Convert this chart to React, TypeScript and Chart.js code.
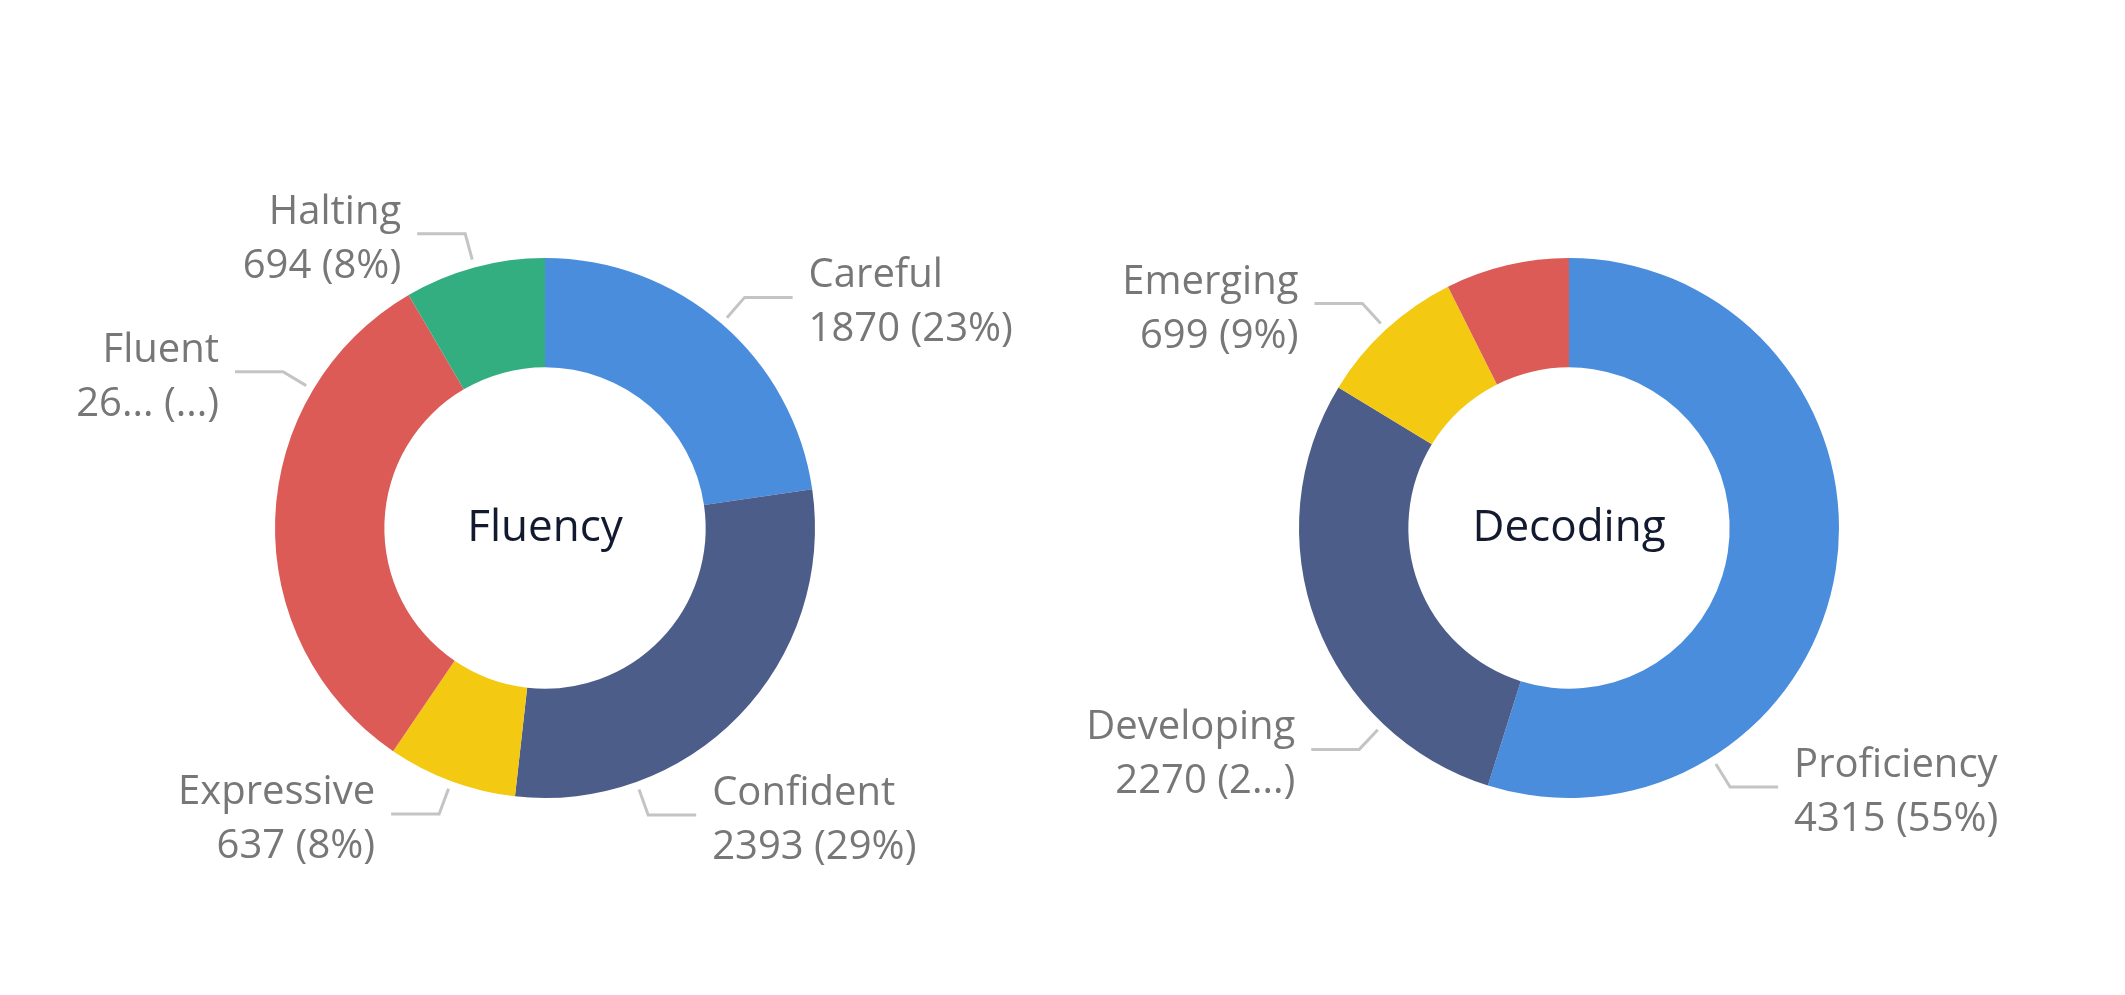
import React, { useEffect, useRef } from "react";
import { Chart, registerables } from "chart.js";

Chart.register(...registerables);

// ---- data ----
const fluencyCategories = ["Careful", "Confident", "Expressive", "Fluent", "Halting"];
const fluencyValues = [1870, 2393, 637, 2640, 694];
const fluencyTitle = "Fluency";

const decodingCategories = ["Proficiency", "Developing", "Emerging", "Beginning"];
const decodingValues = [4315, 2270, 699, 582];
const decodingTitle = "Decoding";

const palette = ["#4A8DDC", "#4C5D8A", "#F3C911", "#DC5B57", "#33AE81"];

// ---- label layout settings (not data) ----
const fluencyLabelAnchor = [0.5, 0.75, 0.5, 0.75, 0.5];
const fluencyLabelShow = [true, true, true, true, true];
const fluencyLabelMaxWidth = [400, 400, 400, 150, 400];

const decodingLabelAnchor = [0.75, 0.25, 0.5, 0.5];
const decodingLabelShow = [true, true, true, false];
const decodingLabelMaxWidth = [400, 185, 400, 400];

const FONT = "'Open Sans', 'Noto Sans', sans-serif";

function fitValueLine(ctx: CanvasRenderingContext2D, value: number, pct: number, maxW: number): string {
  const v = String(value);
  const p = pct + "%";
  const full = `${v} (${p})`;
  if (ctx.measureText(full).width <= maxW) return full;
  for (let k = p.length - 1; k >= 0; k--) {
    const s = `${v} (${p.slice(0, k)}...)`;
    if (ctx.measureText(s).width <= maxW) return s;
  }
  for (let k = v.length - 1; k >= 0; k--) {
    const s = `${v.slice(0, k)}... (...)`;
    if (ctx.measureText(s).width <= maxW) return s;
  }
  return "...";
}

const pbiLabels = {
  id: "pbiLabels",
  afterDraw(chart: any) {
    const cfg = chart.options.plugins.pbiLabels;
    if (!cfg) return;
    const ctx: CanvasRenderingContext2D = chart.ctx;
    const meta = chart.getDatasetMeta(0);
    const values: number[] = chart.data.datasets[0].data;
    const labels: string[] = chart.data.labels;
    const total = values.reduce((a, b) => a + b, 0);
    ctx.save();
    let cx = 0, cy = 0;
    meta.data.forEach((arc: any, i: number) => {
      const { x, y, startAngle, endAngle, outerRadius } = arc.getProps(
        ["x", "y", "startAngle", "endAngle", "outerRadius"],
        true
      );
      cx = x; cy = y;
      if (!cfg.show[i]) return;
      const a = startAngle + (endAngle - startAngle) * cfg.anchor[i];
      const p0x = x + Math.cos(a) * (outerRadius + 8);
      const p0y = y + Math.sin(a) * (outerRadius + 8);
      const p1x = x + Math.cos(a) * (outerRadius + 35);
      const p1y = y + Math.sin(a) * (outerRadius + 35);
      const right = Math.cos(a) >= 0;
      const p2x = p1x + (right ? 48 : -48);
      ctx.strokeStyle = "#c4c4c4";
      ctx.lineWidth = 3;
      ctx.lineJoin = "miter";
      ctx.beginPath();
      ctx.moveTo(p0x, p0y);
      ctx.lineTo(p1x, p1y);
      ctx.lineTo(p2x, p1y);
      ctx.stroke();

      ctx.font = `40px ${FONT}`;
      ctx.fillStyle = "#777777";
      ctx.textBaseline = "alphabetic";
      ctx.textAlign = right ? "left" : "right";
      const tx = p2x + (right ? 16 : -16);
      const pct = Math.round((values[i] / total) * 100);
      const line2 = fitValueLine(ctx, values[i], pct, cfg.maxWidth[i]);
      ctx.fillText(labels[i], tx, p1y - 10);
      ctx.fillText(line2, tx, p1y + 44);
    });
    ctx.font = `44px ${FONT}`;
    ctx.fillStyle = "#131a2f";
    ctx.textAlign = "center";
    ctx.textBaseline = "alphabetic";
    ctx.fillText(cfg.title, cx, cy + 13);
    ctx.restore();
  },
};

type DonutProps = {
  left: number;
  width: number;
  height: number;
  padding: { left: number; right: number; top: number; bottom: number };
  categories: string[];
  values: number[];
  title: string;
  anchor: number[];
  show: boolean[];
  maxWidth: number[];
};

function Donut(props: DonutProps) {
  const ref = useRef<HTMLCanvasElement | null>(null);
  useEffect(() => {
    if (!ref.current) return;
    const chart = new Chart(ref.current, {
      type: "doughnut",
      data: {
        labels: props.categories,
        datasets: [
          {
            data: props.values,
            backgroundColor: props.categories.map((_, i) => palette[i % palette.length]),
            borderWidth: 0,
            hoverOffset: 0,
          },
        ],
      },
      options: {
        responsive: false,
        animation: false,
        events: [],
        cutout: "59.5%",
        layout: { padding: props.padding },
        plugins: {
          legend: { display: false },
          tooltip: { enabled: false },
          pbiLabels: {
            title: props.title,
            anchor: props.anchor,
            show: props.show,
            maxWidth: props.maxWidth,
          },
        } as any,
      },
      plugins: [pbiLabels as any],
    });
    return () => chart.destroy();
  }, []);
  return (
    <canvas
      ref={ref}
      width={props.width}
      height={props.height}
      style={{ position: "absolute", left: props.left, top: 0, width: props.width, height: props.height }}
    />
  );
}

export default function App() {
  return (
    <div style={{ position: "fixed", left: 0, top: 0, width: 2125, height: 995, background: "#ffffff", overflow: "hidden" }}>
      <Donut
        left={0}
        width={1062}
        height={995}
        padding={{ left: 275, right: 247, top: 258, bottom: 197 }}
        categories={fluencyCategories}
        values={fluencyValues}
        title={fluencyTitle}
        anchor={fluencyLabelAnchor}
        show={fluencyLabelShow}
        maxWidth={fluencyLabelMaxWidth}
      />
      <Donut
        left={1062}
        width={1063}
        height={995}
        padding={{ left: 237, right: 286, top: 258, bottom: 197 }}
        categories={decodingCategories}
        values={decodingValues}
        title={decodingTitle}
        anchor={decodingLabelAnchor}
        show={decodingLabelShow}
        maxWidth={decodingLabelMaxWidth}
      />
    </div>
  );
}
